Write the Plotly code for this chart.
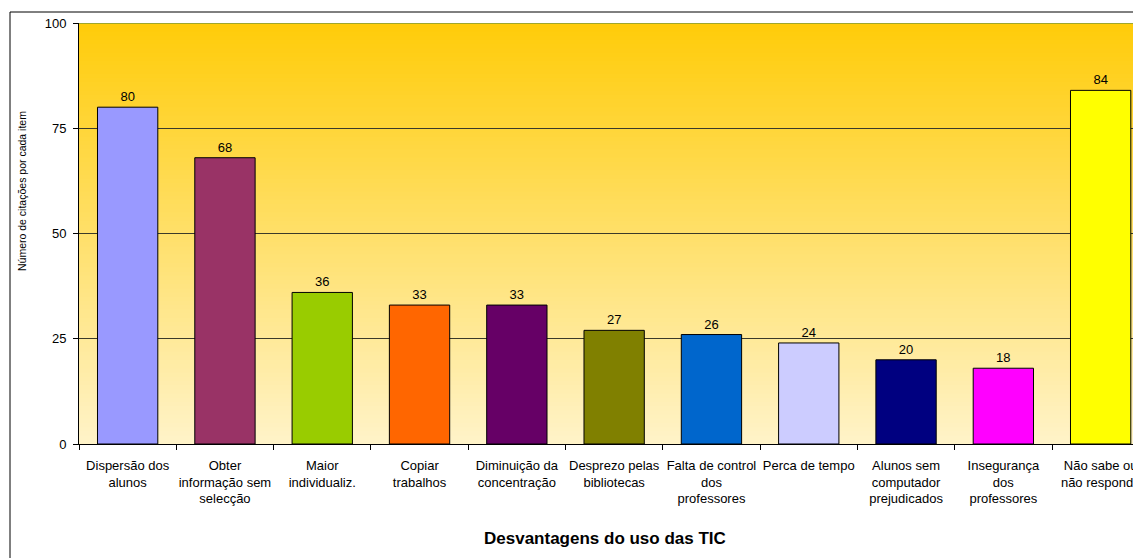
import plotly.graph_objects as go

categories = [
    "Dispersão dos<br>alunos",
    "Obter<br>informação sem<br>selecção",
    "Maior<br>individualiz.",
    "Copiar<br>trabalhos",
    "Diminuição da<br>concentração",
    "Desprezo pelas<br>bibliotecas",
    "Falta de control<br>dos<br>professores",
    "Perca de tempo",
    "Alunos sem<br>computador<br>prejudicados",
    "Insegurança<br>dos<br>professores",
    "Não sabe ou<br>não responde",
]
values = [80, 68, 36, 33, 33, 27, 26, 24, 20, 18, 84]
bar_colors = ["#9999FF", "#993366", "#99CC00", "#FF6600", "#660066", "#808000",
              "#0066CC", "#CCCCFF", "#000080", "#FF00FF", "#FFFF00"]
y_ticks = [0, 25, 50, 75, 100]
x_title = "Desvantagens do uso das TIC"
y_title = "Número de citações por cada item"

FONT = "Liberation Sans, Arial, sans-serif"
OFF = 8  # page body margin
W, H = 1141 - OFF, 558 - OFF
L, T = 79 - OFF, 23 - OFF
plot_bottom = 444 - OFF
B = H - plot_bottom
plot_w = W - L
plot_h = plot_bottom - T
cat_px = 97.3


def px_x(x):
    return (x - OFF - L) / plot_w


def px_y(y):
    return (plot_bottom - (y - OFF)) / plot_h


fig = go.Figure()
fig.add_trace(go.Bar(
    x=categories, y=values,
    marker=dict(color=bar_colors, line=dict(color="black", width=1)),
    width=0.62,
    text=values, texttemplate="%{y}", textposition="outside",
    textfont=dict(family=FONT, size=13, color="black"),
    cliponaxis=False,
))

# gradient background (gold at top to pale yellow at bottom)
top = (255, 204, 10)
bot = (255, 243, 200)
n = 100
shapes = []
for i in range(n):
    f = i / (n - 1)
    c = tuple(round(bot[k] + (top[k] - bot[k]) * f) for k in range(3))
    shapes.append(dict(type="rect", xref="paper", yref="y", x0=0, x1=1,
                       y0=100 * i / n, y1=min(100, 100 * (i + 2) / n),
                       fillcolor="rgb(%d,%d,%d)" % c, line=dict(width=0),
                       layer="below"))
# top border line at 100
shapes.append(dict(type="line", xref="paper", yref="y", x0=0, x1=1, y0=100, y1=100,
                   line=dict(color="#7F9A3A", width=1.5), layer="above"))
# outer frame
shapes.append(dict(type="rect", xref="paper", yref="paper",
                   x0=px_x(10), x1=1.2, y0=-0.6, y1=px_y(12),
                   line=dict(color="black", width=1), fillcolor="rgba(0,0,0,0)"))

fig.update_layout(
    width=W, height=H,
    margin=dict(l=L, r=0, t=T, b=B, pad=0, autoexpand=False),
    paper_bgcolor="white", plot_bgcolor="white",
    showlegend=False,
    font=dict(family=FONT, size=13, color="black"),
    shapes=shapes,
    bargap=0.38,
    xaxis=dict(
        type="category", automargin=False,
        range=[-0.5, -0.5 + plot_w / cat_px],
        showline=True, linecolor="black", linewidth=1,
        ticks="outside", ticklen=5, tickcolor="black", tickson="boundaries",
        showgrid=False, zeroline=False, tickangle=0,
        tickfont=dict(family=FONT, size=13, color="black"),
        ticklabelstandoff=9,
    ),
    yaxis=dict(
        range=[0, 100], tickvals=y_ticks, automargin=False,
        showline=True, linecolor="black", linewidth=1,
        ticks="outside", ticklen=5, tickcolor="black",
        showgrid=True, gridcolor="#3a3a2a", gridwidth=1,
        zeroline=False,
        tickfont=dict(family=FONT, size=13, color="black"),
        ticklabelstandoff=4,
    ),
    annotations=[
        dict(text=x_title, xref="paper", yref="paper",
             x=px_x(604.5), y=px_y(538),
             xanchor="center", yanchor="middle", showarrow=False,
             font=dict(family=FONT, size=17, color="black", weight="bold")),
        dict(text=y_title, xref="paper", yref="paper",
             x=px_x(21.5), y=px_y(191.5),
             xanchor="center", yanchor="middle", showarrow=False, textangle=-90,
             font=dict(family=FONT, size=10.5, color="black")),
    ],
)

fig.write_html("out.html")
